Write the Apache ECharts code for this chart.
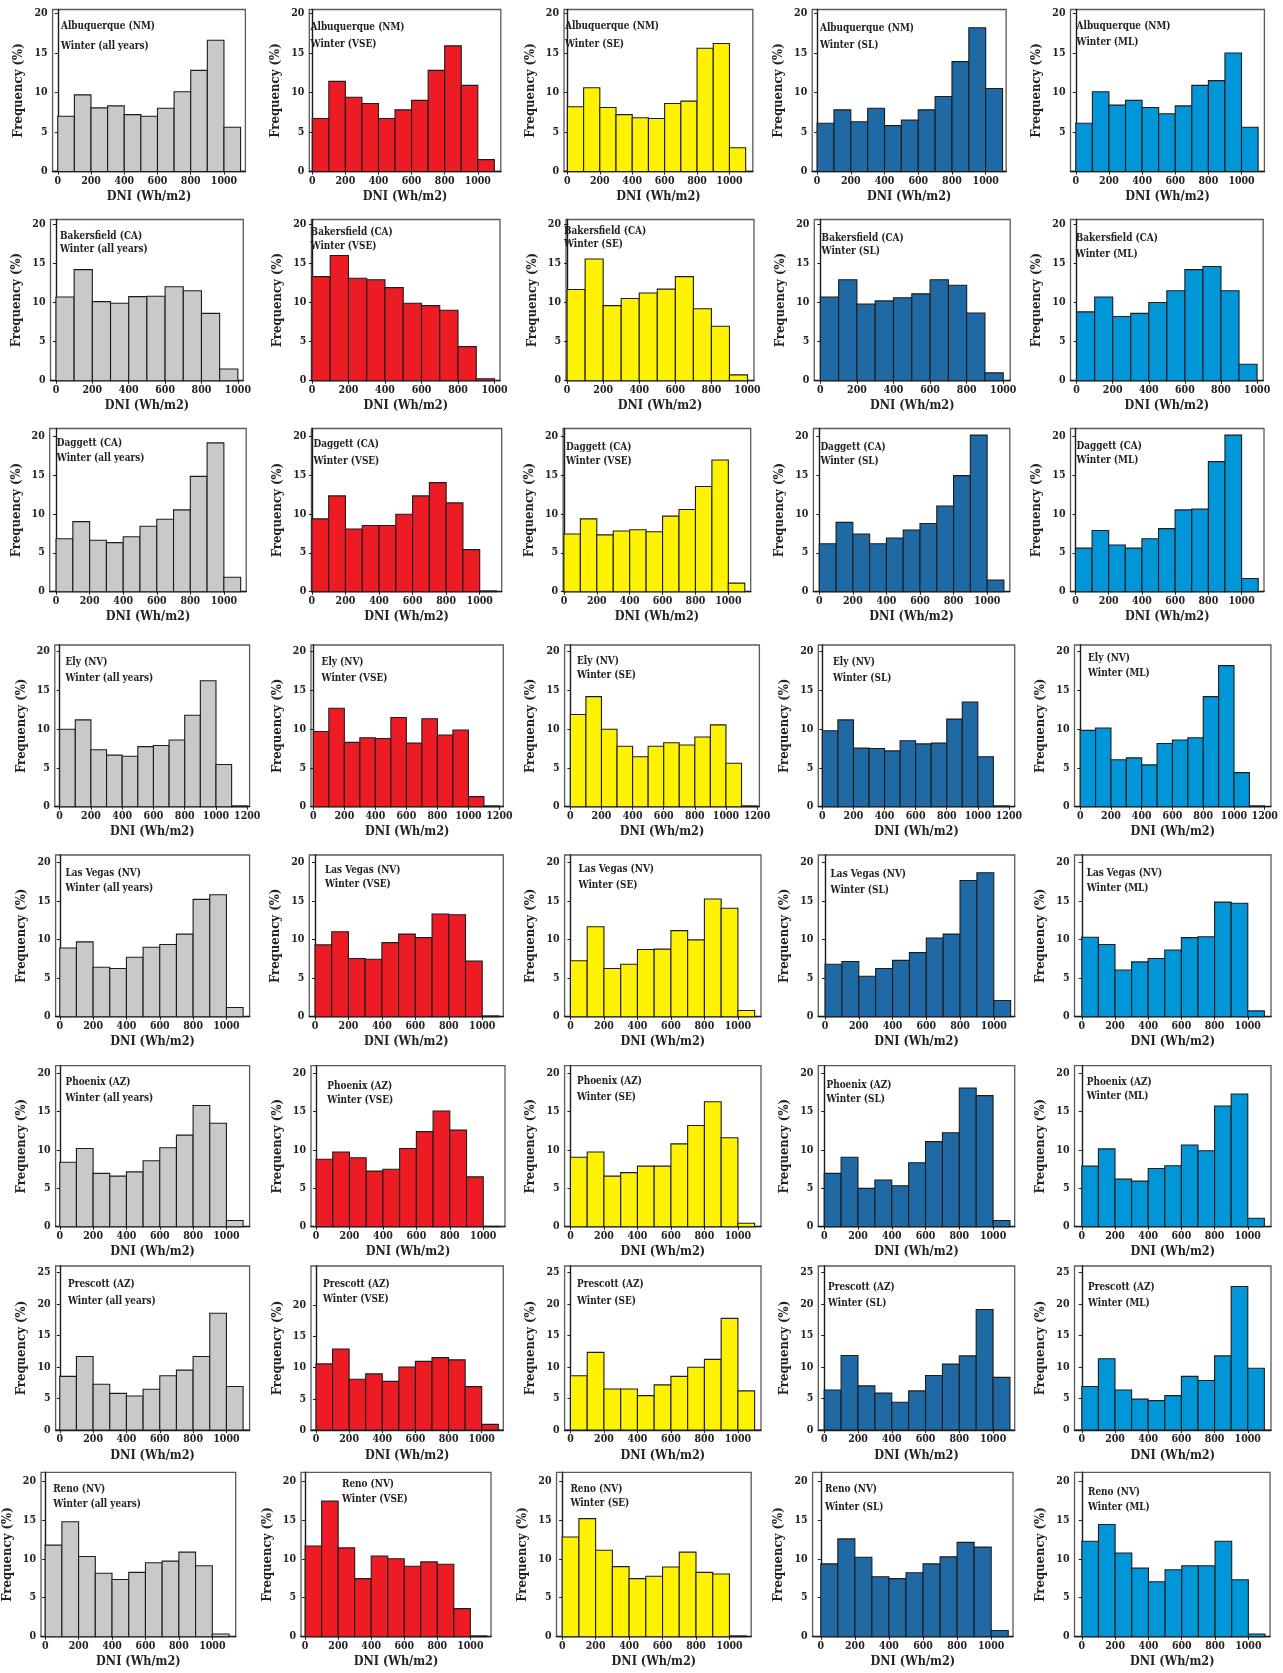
<!DOCTYPE html>
<html>
<head>
<meta charset="utf-8">
<script src="https://cdn.jsdelivr.net/npm/echarts@6/dist/echarts.min.js"></script>
<style>
  html, body { margin: 0; padding: 0; background: #fff; }
  #chart { width: 1283px; height: 1673px; }
</style>
</head>
<body>
<div id="chart"></div>
<script>
// Winter DNI frequency distributions (%), 100 Wh/m2 bins starting at 0.

const ALB_ALL = [7.0, 9.7, 8.05, 8.3, 7.2, 7.0, 8.0, 10.1, 12.8, 16.6, 5.6];
const ALB_VSE = [6.7, 11.4, 9.4, 8.6, 6.7, 7.8, 9.0, 12.8, 15.9, 10.9, 1.5];
const ALB_SE  = [8.2, 10.6, 8.1, 7.2, 6.8, 6.7, 8.6, 8.9, 15.6, 16.2, 3.0];
const ALB_SL  = [6.1, 7.8, 6.3, 8.0, 5.8, 6.5, 7.8, 9.5, 13.9, 18.2, 10.5];
const ALB_ML  = [6.1, 10.1, 8.4, 9.0, 8.1, 7.3, 8.3, 10.9, 11.5, 15.0, 5.6];

const BAK_ALL = [10.7, 14.2, 10.1, 9.9, 10.75, 10.8, 12.0, 11.5, 8.6, 1.5];
const BAK_VSE = [13.3, 16.0, 13.1, 12.9, 11.9, 9.9, 9.6, 9.0, 4.35, 0.25];
const BAK_SE  = [11.65, 15.55, 9.6, 10.5, 11.2, 11.7, 13.3, 9.2, 6.95, 0.75];
const BAK_SL  = [10.7, 12.9, 9.8, 10.2, 10.6, 11.1, 12.9, 12.2, 8.65, 1.0];
const BAK_ML  = [8.8, 10.7, 8.2, 8.6, 10.0, 11.5, 14.2, 14.6, 11.5, 2.1];

const DAG_ALL = [6.8, 9.0, 6.6, 6.3, 7.05, 8.4, 9.3, 10.5, 14.8, 19.1, 1.85];
const DAG_VSE = [9.35, 12.3, 8.05, 8.5, 8.5, 9.95, 12.3, 14.0, 11.4, 5.4, 0.1];
const DAG_SE  = [7.4, 9.35, 7.3, 7.8, 7.95, 7.7, 9.7, 10.55, 13.5, 16.9, 1.1];
const DAG_SL  = [6.15, 8.9, 7.4, 6.15, 6.9, 7.9, 8.75, 11.0, 14.9, 20.1, 1.5];
const DAG_ML  = [5.6, 7.85, 6.0, 5.6, 6.8, 8.1, 10.5, 10.6, 16.7, 20.1, 1.7];

const ELY_ALL = [10.0, 11.2, 7.35, 6.65, 6.5, 7.75, 7.9, 8.6, 11.8, 16.25, 5.45, 0.1];
const ELY_VSE = [9.7, 12.7, 8.3, 8.9, 8.8, 11.5, 8.2, 11.35, 9.25, 9.9, 1.3, 0.1];
const ELY_SE  = [11.9, 14.2, 10.0, 7.8, 6.45, 7.8, 8.25, 7.95, 9.0, 10.55, 5.6, 0.1];
const ELY_SL  = [9.8, 11.2, 7.55, 7.5, 7.2, 8.5, 8.1, 8.2, 11.3, 13.5, 6.45, 0.1];
const ELY_ML  = [9.85, 10.15, 6.05, 6.3, 5.4, 8.15, 8.6, 8.9, 14.2, 18.2, 4.4, 0.1];

const LV_ALL = [8.9, 9.7, 6.4, 6.25, 7.7, 9.0, 9.35, 10.7, 15.2, 15.8, 1.2];
const LV_VSE = [9.3, 11.0, 7.55, 7.45, 9.6, 10.7, 10.25, 13.3, 13.2, 7.2, 0.1];
const LV_SE  = [7.25, 11.65, 6.25, 6.8, 8.7, 8.75, 11.15, 9.95, 15.25, 14.05, 0.8];
const LV_SL  = [6.8, 7.15, 5.25, 6.25, 7.3, 8.3, 10.2, 10.7, 17.65, 18.65, 2.1];
const LV_ML  = [10.3, 9.35, 6.05, 7.1, 7.55, 8.65, 10.25, 10.35, 14.85, 14.7, 0.75];

const PHX_ALL = [8.4, 10.2, 6.95, 6.6, 7.15, 8.6, 10.3, 11.95, 15.8, 13.5, 0.8];
const PHX_VSE = [8.8, 9.75, 9.0, 7.25, 7.5, 10.2, 12.4, 15.1, 12.6, 6.5, 0.05];
const PHX_SE  = [9.05, 9.75, 6.6, 7.05, 7.9, 7.9, 10.8, 13.2, 16.3, 11.6, 0.45];
const PHX_SL  = [6.95, 9.05, 5.0, 6.1, 5.35, 8.35, 11.1, 12.25, 18.1, 17.1, 0.8];
const PHX_ML  = [7.9, 10.15, 6.2, 5.95, 7.6, 7.95, 10.65, 9.9, 15.75, 17.3, 1.1];

const PRE_ALL = [8.5, 11.65, 7.25, 5.8, 5.4, 6.45, 8.6, 9.5, 11.65, 18.5, 6.9];
const PRE_VSE = [10.6, 13.0, 8.15, 9.0, 7.8, 10.1, 11.0, 11.6, 11.25, 6.95, 0.9];
const PRE_SE  = [8.6, 12.3, 6.5, 6.5, 5.45, 7.15, 8.5, 9.95, 11.2, 17.7, 6.2];
const PRE_SL  = [6.35, 11.8, 7.0, 5.85, 4.4, 6.2, 8.65, 10.45, 11.75, 19.1, 8.35];
const PRE_ML  = [6.9, 11.3, 6.35, 4.9, 4.65, 5.45, 8.5, 7.85, 11.75, 22.75, 9.8];

const RENO_ALL = [11.75, 14.75, 10.3, 8.15, 7.35, 8.25, 9.5, 9.7, 10.85, 9.1, 0.35];
const RENO_VSE = [11.65, 17.4, 11.4, 7.45, 10.35, 10.0, 9.05, 9.6, 9.3, 3.6, 0.1];
const RENO_SE  = [12.8, 15.15, 11.1, 9.0, 7.45, 7.75, 8.95, 10.85, 8.25, 8.05, 0.1];
const RENO_SL  = [9.35, 12.55, 10.2, 7.7, 7.45, 8.2, 9.35, 10.25, 12.1, 11.5, 0.8];
const RENO_ML  = [12.25, 14.4, 10.75, 8.8, 7.05, 8.6, 9.1, 9.1, 12.25, 7.3, 0.35];

const STATIONS = ['Albuquerque (NM)', 'Bakersfield (CA)', 'Daggett (CA)', 'Ely (NV)',
                  'Las Vegas (NV)', 'Phoenix (AZ)', 'Prescott (AZ)', 'Reno (NV)'];
const SEASONS = ['Winter (all years)', 'Winter (VSE)', 'Winter (SE)', 'Winter (SL)', 'Winter (ML)'];
const DAGGETT_SE_LABEL = 'Winter (VSE)';

const X_TICKS = [0, 200, 400, 600, 800, 1000];
const X_TICKS_ELY = [0, 200, 400, 600, 800, 1000, 1200];
const Y_TICKS = [0, 5, 10, 15, 20];
const Y_TICKS_PRESCOTT = [0, 5, 10, 15, 20, 25];

const BIN_WIDTH = 100;

const ROWS = [
  [ALB_ALL, ALB_VSE, ALB_SE, ALB_SL, ALB_ML],
  [BAK_ALL, BAK_VSE, BAK_SE, BAK_SL, BAK_ML],
  [DAG_ALL, DAG_VSE, DAG_SE, DAG_SL, DAG_ML],
  [ELY_ALL, ELY_VSE, ELY_SE, ELY_SL, ELY_ML],
  [LV_ALL, LV_VSE, LV_SE, LV_SL, LV_ML],
  [PHX_ALL, PHX_VSE, PHX_SE, PHX_SL, PHX_ML],
  [PRE_ALL, PRE_VSE, PRE_SE, PRE_SL, PRE_ML],
  [RENO_ALL, RENO_VSE, RENO_SE, RENO_SL, RENO_ML]
];

// Colour per season column: all years, VSE, SE, SL, ML
const COLORS = ['#c8c9cb', '#ed1c24', '#fff200', '#1f69a4', '#0096d8'];
const FONT = "'DejaVu Serif Condensed', 'DejaVu Serif', serif";

// Panel geometry per row (pixels) and axis extents per column
const LAYOUT = [
  { top: 9.5, zero: 171.5, ymax: 20.5,
    lefts: [52.6, 309.3, 564, 812.2, 1070.5], rights: [245.4, 500.8, 752.8, 1006.1, 1264.4],
    xmins: [-31, -18, -21, -29, -32], xmaxs: [1129, 1139, 1144, 1121, 1138],
    labels: [[61, 26, 45.7], [310.6, 26.7, 44], [565, 26, 44.3], [820, 28.3, 45], [1076.6, 26, 42.3]] },
  { top: 219.5, zero: 380.7, ymax: 20.6,
    lefts: [50.5, 311.4, 566, 814.3, 1070.5], rights: [243.3, 500, 754, 1010.2, 1263.2],
    xmins: [-30, -3, -6, -33, -34], xmaxs: [1030, 1030, 1036, 1038, 1034],
    labels: [[60, 235.7, 249.3], [310.6, 231.7, 245.7], [564, 231, 244.3], [821.6, 237.7, 250.7], [1075.8, 237.7, 254.3]] },
  { top: 428.5, zero: 591.7, ymax: 20.95,
    lefts: [49.7, 311.4, 563.1, 813.4, 1070.5], rights: [246.2, 501.7, 750.7, 1009.8, 1264],
    xmins: [-38, -3, -5, -35, -30], xmaxs: [1133, 1131, 1136, 1135, 1135],
    labels: [[56.8, 442.7, 458.3], [313.5, 444.3, 461], [566, 446.7, 460.7], [820.4, 446.7, 461], [1076.6, 446, 460]] },
  { top: 645, zero: 806.7, ymax: 20.86,
    lefts: [54.8, 311, 564.6, 818.3, 1074.5], rights: [249.6, 503.3, 759.4, 1014.7, 1270.9],
    xmins: [-31, -15, -37, -26, -37], xmaxs: [1215, 1225, 1215, 1237, 1240],
    labels: [[65.5, 661.7, 677.7], [321.6, 662.3, 677.7], [577, 660.7, 675], [833, 662.3, 677.7], [1088, 658.3, 673.3]] },
  { top: 855, zero: 1016.7, ymax: 20.95,
    lefts: [55.6, 309.3, 564.6, 818.3, 1074.5], rights: [249.6, 503.3, 761, 1014.7, 1271],
    xmins: [-25, -34, -35, -40, -44], xmaxs: [1139, 1126, 1138, 1124, 1140],
    labels: [[65.5, 872.7, 887.7], [325, 870, 884.3], [578.6, 869, 885], [830.6, 874.3, 890], [1086.7, 872.7, 888.3]] },
  { top: 1065.7, zero: 1226.7, ymax: 21,
    lefts: [55.6, 311, 564.6, 818.3, 1074.5], rights: [249.6, 505, 761, 1014.7, 1271],
    xmins: [-25, -30, -35, -35, -44], xmaxs: [1139, 1130, 1138, 1128, 1140],
    labels: [[65.5, 1081.7, 1098.3], [327.3, 1085.7, 1100], [577, 1081, 1097.3], [826.5, 1085, 1099], [1086.7, 1081.7, 1095.7]] },
  { top: 1266, zero: 1430, ymax: 26,
    lefts: [55.6, 311, 564.6, 818.3, 1074.5], rights: [249.6, 503.3, 761, 1014.7, 1271],
    xmins: [-25, -30, -35, -35, -44], xmaxs: [1139, 1130, 1138, 1128, 1140],
    labels: [[68, 1284.3, 1300.7], [323, 1284.3, 1299.3], [577, 1284, 1300.7], [828, 1286.7, 1302.7], [1088, 1286.7, 1302.7]] },
  { top: 1472.3, zero: 1636.7, ymax: 21.1,
    lefts: [40.9, 301, 556.5, 812.6, 1074.5], rights: [235.7, 491, 751.2, 1013, 1270],
    xmins: [-25, -25, -34, -48, -44], xmaxs: [1140, 1125, 1130, 1128, 1130],
    labels: [[53.2, 1489.3, 1504], [342, 1484.3, 1499], [570.4, 1489, 1503.3], [825, 1489.3, 1506.7], [1088, 1491.7, 1506.7]] }
];

function yTicksFor(r, c) {
  if (r === 6) return c === 1 ? Y_TICKS : Y_TICKS_PRESCOTT;
  if (r === 0 && c === 4) return Y_TICKS.filter(v => v !== 0);
  return Y_TICKS;
}
function yMaxFor(r, c) {
  if (r === 6 && c === 1) return 26.3;
  return LAYOUT[r].ymax;
}
const plainNumber = v => String(v);

const grids = [], xAxes = [], yAxes = [], series = [], graphics = [];

ROWS.forEach((rowData, r) => {
  const g = LAYOUT[r];
  rowData.forEach((values, c) => {
    const idx = grids.length;
    const left = g.lefts[c], right = g.rights[c];
    grids.push({
      left: left, top: g.top, width: right - left, height: g.zero - g.top,
      show: true, borderColor: '#5a5a5a', borderWidth: 1.3, backgroundColor: 'transparent'
    });
    const xt = (r === 3) ? X_TICKS_ELY : X_TICKS;
    xAxes.push({
      type: 'value', gridIndex: idx, min: g.xmins[c], max: g.xmaxs[c],
      name: 'DNI (Wh/m2)', nameLocation: 'middle', nameGap: 19,
      nameTextStyle: { fontFamily: FONT, fontWeight: 'bold', fontSize: 12.5, color: '#222' },
      axisLine: { show: true, onZero: false, lineStyle: { color: '#1a1a1a', width: 1.4 } },
      axisTick: { show: true, length: 3, customValues: xt, lineStyle: { color: '#1a1a1a' } },
      axisLabel: { customValues: xt, formatter: plainNumber, margin: 4, fontFamily: FONT,
                   fontWeight: 'bold', fontSize: 10.5, color: '#222' },
      splitLine: { show: false }
    });
    const yt = yTicksFor(r, c);
    yAxes.push({
      type: 'value', gridIndex: idx, min: 0, max: yMaxFor(r, c),
      name: 'Frequency (%)', nameLocation: 'middle', nameGap: 27,
      nameTextStyle: { fontFamily: FONT, fontWeight: 'bold', fontSize: 13, color: '#222' },
      axisLine: { show: true, lineStyle: { color: '#1a1a1a', width: 1.4 } },
      axisTick: { show: true, length: 3, customValues: yt, lineStyle: { color: '#1a1a1a' } },
      axisLabel: { customValues: yt, formatter: plainNumber, margin: 5, fontFamily: FONT,
                   fontWeight: 'bold', fontSize: 10.5, color: '#222' },
      splitLine: { show: false }
    });
    const color = COLORS[c];
    series.push({
      type: 'custom', xAxisIndex: idx, yAxisIndex: idx,
      data: values.map((v, i) => [i * BIN_WIDTH, (i + 1) * BIN_WIDTH, v]),
      encode: { x: [0, 1], y: 2 },
      renderItem: function (params, api) {
        const p0 = api.coord([api.value(0), api.value(2)]);
        const p1 = api.coord([api.value(1), 0]);
        return {
          type: 'rect',
          shape: { x: p0[0], y: p0[1], width: p1[0] - p0[0], height: p1[1] - p0[1] },
          style: { fill: color, stroke: '#1c1c1c', lineWidth: 1.1 }
        };
      },
      silent: true, animation: false
    });
    const lab = g.labels[c];
    const season = (r === 2 && c === 2) ? DAGGETT_SE_LABEL : SEASONS[c];
    [[STATIONS[r], lab[1]], [season, lab[2]]].forEach(([txt, y]) => {
      graphics.push({
        type: 'text', x: lab[0], y: y, scaleX: 0.9, silent: true,
        style: {
          text: txt, fill: '#222', font: 'bold 11px ' + FONT,
          align: 'left', verticalAlign: 'middle',
          textAlign: 'left', textVerticalAlign: 'middle'
        }
      });
    });
  });
});

const chart = echarts.init(document.getElementById('chart'), null, { renderer: 'canvas' });
chart.setOption({
  backgroundColor: '#ffffff',
  animation: false,
  grid: grids,
  xAxis: xAxes,
  yAxis: yAxes,
  series: series,
  graphic: { elements: graphics }
});
</script>
</body>
</html>
